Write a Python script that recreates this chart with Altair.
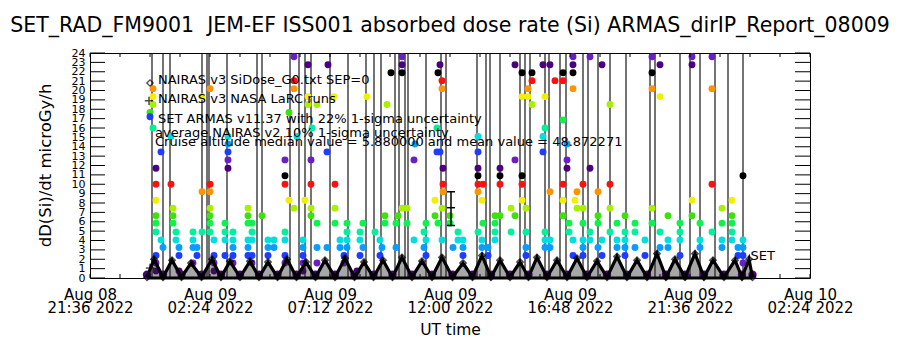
import altair as alt
import pandas as pd

# ---------------- data ----------------
# dose-rate levels (microGy/h) that the ARMAS points sit on, and their colours
level_values = [0.75, 1.6, 2.4, 3.25, 4.05, 4.9, 5.85, 6.65, 7.45, 8.3, 9.2, 10.0,
                10.9, 11.7, 12.6, 13.45, 14.3, 15.1, 16.0, 16.85, 17.65, 18.5,
                19.35, 20.2, 21.05, 21.9, 22.75, 23.6]
palette = ["#4c0080", "#6a1fc0", "#1f3cff", "#0a9cff", "#00dede", "#00f09c",
           "#10f050", "#40e010", "#a8f000", "#f0f000", "#ff9400", "#ff1010", "#000000"]

# hours after Aug 08 21:36 UT of each column of ARMAS points, and the levels present
col_hours = [2.40, 2.52, 2.64, 2.84, 2.92, 3.24, 3.32, 3.44, 3.56, 4.12, 4.28, 4.48,
             4.80, 4.96, 5.40, 5.52, 5.72, 6.32, 6.48, 6.88, 7.12, 7.36, 7.80, 7.96,
             8.16, 8.28, 8.52, 8.60, 8.72, 8.84, 8.88, 9.08, 9.48, 9.52, 9.76, 9.80,
             10.00, 10.16, 10.28, 10.68, 10.80, 10.92, 11.08, 11.40, 11.60, 11.68,
             11.80, 11.88, 12.04, 12.24, 12.32, 12.48, 12.68, 12.96, 13.00, 13.36,
             13.44, 13.80, 13.88, 13.92, 14.00, 14.08, 14.12, 14.40, 14.52, 14.72,
             14.92, 15.52, 15.68, 15.72, 15.92, 16.20, 16.40, 16.84, 17.00, 17.28,
             17.44, 17.52, 17.68, 18.12, 18.20, 18.40, 18.60, 18.92, 19.08, 19.16,
             19.32, 19.40, 19.48, 19.72, 20.00, 20.32, 20.48, 20.80, 21.08, 21.40,
             21.80, 22.20, 22.48, 22.80, 23.12, 23.60, 24.08, 24.40, 24.88, 25.28,
             25.68, 25.92, 26.12]
col_levels = [[20], [18, 21, 22, 23], [0, 1, 2, 5, 6, 7, 9, 11, 13], [4, 15], [3],
              [11, 17], [8, 7, 6], [5, 4], [3, 2, 0], [5, 4, 3, 1], [3, 2], [10, 5, 22],
              [11, 10, 8, 7, 6, 5, 23], [4, 2, 1, 0], [6, 5, 4, 2], [13, 14, 15, 16, 17],
              [5, 4, 3, 2, 1], [8, 7, 6, 4, 3, 2], [6, 5, 4, 2, 1], [7], [4, 3, 2], [4, 3],
              [1, 2, 5, 4, 11, 12, 14], [9, 20], [8, 27, 24, 23], [17], [0, 1, 2, 3, 4],
              [9], [26, 22, 21], [7, 8, 11, 14], [18], [1, 3, 6, 21], [3, 15], [26], [22],
              [11, 8, 6], [4, 3], [2, 1], [5, 6, 4, 3], [0], [2, 4, 5], [6, 3], [22], [5],
              [4, 2], [3], [7, 6], [21], [25], [6, 3], [7], [27, 26, 25, 8], [8, 6],
              [14, 4], [16], [3, 5], [6, 4, 2], [9, 7], [18, 15], [25, 6], [26, 15],
              [24, 23, 8, 4], [13, 11, 10], [7, 6], [3], [4, 5], [3, 2, 4],
              [17, 15, 13, 12, 11, 10, 5], [9, 4, 3], [6, 11], [3, 2], [7, 6, 5, 4],
              [13, 12, 11, 7], [8, 5], [26, 14, 7], [25, 22, 12, 11, 9], [8, 3, 2, 5],
              [22, 23], [24, 25, 21], [15, 17, 26], [22, 18, 5, 4, 3], [26, 10, 4, 3],
              [24], [25, 24, 19, 11, 9, 7], [16, 14, 13], [6, 5], [27, 26, 25, 23, 4, 2],
              [9], [10, 8], [11, 8, 6, 4, 3, 2], [27, 13, 5, 4], [10, 7, 6, 3], [26, 4, 2],
              [21, 11, 8, 5], [6, 4, 3], [7, 5, 4, 3, 2], [6, 5, 3], [4, 2],
              [27, 25, 23, 8, 6], [26, 22, 5, 3], [7, 4, 3], [6, 5, 4, 2], [27, 26, 9, 7],
              [6, 4, 3], [27, 23, 11, 5], [8, 6, 4, 3], [9, 7, 6, 5, 4], [3, 2],
              [12, 4, 3, 2, 1]]

# ARMAS excursions that leave the top of the plot
spike_hours = [2.48, 2.92, 3.20, 4.48, 4.68, 4.76, 5.48, 6.68, 6.88, 8.00, 8.36, 8.60,
               8.84, 9.60, 10.32, 11.04, 11.36, 11.64, 12.20, 12.36, 12.60, 12.72, 13.44,
               14.04, 14.24, 15.48, 15.84, 16.00, 16.40, 17.20, 17.40, 17.60, 18.20,
               18.36, 18.80, 19.04, 19.72, 19.92, 20.32, 20.80, 21.44, 22.40, 22.60,
               23.60, 24.00, 24.40, 25.00, 25.52, 26.12]

# NAIRAS v3 SiDose curve: crest and trough points
nairas_peak_hours = [2.56, 3.28, 4.04, 4.88, 5.60, 6.40, 7.12, 7.88, 8.64, 9.40, 10.20,
                     10.96, 11.72, 12.48, 13.28, 14.08, 14.92, 15.68, 16.40, 17.20, 17.88,
                     18.68, 19.48, 20.28, 21.08, 21.88, 22.68, 23.40, 24.20, 24.92, 25.80,
                     26.36]
nairas_peak_vals = [2.0, 1.9, 1.6, 2.0, 1.8, 1.8, 1.7, 2.0, 1.7, 1.9, 2.1, 1.7, 1.9, 2.2,
                    1.8, 2.2, 1.6, 2.4, 1.9, 1.7, 2.2, 1.9, 2.1, 1.8, 2.3, 1.9, 2.6, 2.0,
                    2.6, 1.9, 1.9, 2.0]
nairas_trough_hours = [2.28, 2.92, 3.66, 4.46, 5.24, 6.00, 6.76, 7.50, 8.26, 9.02, 9.80,
                       10.58, 11.34, 12.10, 12.88, 13.68, 14.50, 15.30, 16.04, 16.80,
                       17.54, 18.28, 19.08, 19.88, 20.68, 21.48, 22.28, 23.04, 23.80,
                       24.56, 25.36, 26.08, 26.50]
nairas_trough_val = 0.08
armas_floor_val = 0.35

# NAIRAS NASA LaRC run with error bar, and single LaRC point
larc_hours = [14.44]
larc_low = [5.6]
larc_mid = [7.5]
larc_high = [9.2]
larc_point_hours = [2.40]
larc_point_vals = [1.07]

# axes
x_label_values = [0, 4.8, 9.6, 14.4, 19.2, 24.0, 28.8]
x_label_dates = ["Aug 08", "Aug 09", "Aug 09", "Aug 09", "Aug 09", "Aug 09", "Aug 10"]
x_label_times = ["21:36 2022", "02:24 2022", "07:12 2022", "12:00 2022",
                 "16:48 2022", "21:36 2022", "02:24 2022"]
x_minor_ticks = [0, 1.2, 2.4, 3.6, 4.8, 6.0, 7.2, 8.4, 9.6, 10.8, 12.0, 13.2, 14.4,
                 15.6, 16.8, 18.0, 19.2, 20.4, 21.6, 22.8, 24.0, 25.2, 26.4, 27.6, 28.8]
y_ticks = list(range(0, 25))

legend_lines = ["NAIRAS v3 SiDose_G0.txt SEP=0",
                "NAIRAS v3 NASA LaRC runs",
                "SET ARMAS v11.37 with 22% 1-sigma uncertainty",
                "average NAIRAS v2 10% 1-sigma uncertainty",
                "Cruise altitude median value = 5.880000 and mean value = 48.872271"]
legend_hours = [2.72, 2.72, 2.72, 2.60, 2.60]
legend_vals = [21.1, 19.1, 17.0, 15.45, 14.5]

TITLE = "SET_RAD_FM9001\u00a0\u00a0JEM-EF ISS001 absorbed dose rate (Si) ARMAS_dirIP_Report_08009"
FONT = "DejaVu Sans"

# ---------------- tables ----------------
pts = pd.DataFrame([
    {"h": h, "v": level_values[l], "c": palette[l % 13]}
    for h, lv in zip(col_hours, col_levels) for l in lv
])
spikes = pd.DataFrame({"h": spike_hours, "y0": 0.0, "y1": 24.0})
nairas = pd.DataFrame(
    [{"h": h, "v": v} for h, v in zip(nairas_peak_hours, nairas_peak_vals)] +
    [{"h": h, "v": nairas_trough_val} for h in nairas_trough_hours]
).sort_values("h")
floor_pts = pd.DataFrame({"h": nairas_trough_hours, "v": armas_floor_val})
baseline = pd.DataFrame({"h": [nairas_trough_hours[0]], "h2": [nairas_trough_hours[-1]], "v": [0.0]})
larc = pd.DataFrame({"h": larc_hours, "lo": larc_low, "mid": larc_mid, "hi": larc_high})
caps = pd.DataFrame(
    [{"a": h - 0.16, "b": h + 0.16, "v": v} for h, lo, mi, hi in
     zip(larc_hours, larc_low, larc_mid, larc_high) for v in (lo, mi, hi)])
larc_pt = pd.DataFrame({"h": larc_point_hours, "v": larc_point_vals})
ytick_df = pd.DataFrame({"v": y_ticks})
xtick_df = pd.DataFrame({"h": x_minor_ticks})
legend_df = pd.DataFrame({"h": legend_hours, "v": legend_vals, "t": legend_lines})
legend_sym = pd.DataFrame({"h": [2.40, 2.36, 2.40], "v": [20.8, 18.9, 17.2],
                           "k": ["diamond", "plus", "dot"]})
set_lbl = pd.DataFrame({"h": [26.42], "v": [2.3], "t": ["SET"]})

# ---------------- scales / axes ----------------
xs = alt.Scale(domain=[0, 28.8], nice=False, zero=False)
ys = alt.Scale(domain=[0, 24], nice=False, zero=False)

lab_expr = "[" + ",".join(f"['{d}','{t}']" for d, t in zip(x_label_dates, x_label_times)) \
           + "][round(datum.value/4.8)]"
xaxis = alt.Axis(values=x_label_values, labelExpr=lab_expr, title="UT time",
                 ticks=False, domain=False, grid=False, labelFont=FONT, labelFontSize=15,
                 labelLineHeight=13, labelPadding=9, labelColor="black", labelFlush=False,
                 labelOverlap=False, titleFont=FONT, titleFontSize=15.5,
                 titleFontWeight="normal", titleColor="black", titleY=44)
yaxis = alt.Axis(values=y_ticks, title="dD(Si)/dt microGy/h", ticks=False, domain=False,
                 grid=False, labelFont=FONT, labelFontSize=11, labelPadding=5,
                 labelColor="black", labelOverlap=False, labelFlush=False,
                 titleFont=FONT, titleFontSize=16.5, titleFontWeight="normal",
                 titleColor="black", titleX=-45, titleY=112, titleAlign="center",
                 titleBaseline="middle")


def X(f):
    return alt.X(f"{f}:Q", scale=xs, axis=xaxis)


def Y(f):
    return alt.Y(f"{f}:Q", scale=ys, axis=yaxis)


spike_layer = alt.Chart(spikes).mark_rule(color="black", strokeWidth=1.1, clip=True).encode(
    x=X("h"), y=Y("y0"), y2="y1")
point_layer = alt.Chart(pts).mark_point(filled=True, shape="circle", size=48, opacity=1,
                                        clip=True).encode(
    x=X("h"), y=Y("v"), color=alt.Color("c:N", scale=None))
nairas_area = alt.Chart(nairas).mark_area(color="#222222", opacity=0.4).encode(
    x=X("h"), y=Y("v"))
floor_layer = alt.Chart(floor_pts).mark_point(filled=True, shape="circle", size=70,
                                              opacity=1, color="#4c0080").encode(
    x=X("h"), y=Y("v"))
nairas_line = alt.Chart(nairas).mark_line(color="black", strokeWidth=3.2).encode(
    x=X("h"), y=Y("v"), order="h:Q")
nairas_pts = alt.Chart(nairas).mark_point(shape="diamond", filled=False, color="black",
                                          size=40, strokeWidth=1.5).encode(
    x=X("h"), y=Y("v"))
base_layer = alt.Chart(baseline).mark_rule(color="black", strokeWidth=3).encode(
    x=X("h"), x2="h2", y=Y("v"))
larc_bar = alt.Chart(larc).mark_rule(color="black", strokeWidth=1.5).encode(
    x=X("h"), y=Y("lo"), y2="hi")
larc_caps = alt.Chart(caps).mark_rule(color="black", strokeWidth=1.5).encode(
    x=X("a"), x2="b", y=Y("v"))
plus_shape = "M -1 0 L 1 0 M 0 -1 L 0 1"
larc_pt_layer = alt.Chart(larc_pt).mark_point(shape=plus_shape, filled=False, color="black",
                                              size=70, strokeWidth=1.5).encode(
    x=X("h"), y=Y("v"))

ytick_l = alt.Chart(ytick_df).mark_rule(color="black", strokeWidth=1).encode(
    y=Y("v"), x=alt.value(0), x2=alt.value(15))
ytick_r = alt.Chart(ytick_df).mark_rule(color="black", strokeWidth=1).encode(
    y=Y("v"), x=alt.value(705), x2=alt.value(720))
xtick_b = alt.Chart(xtick_df).mark_rule(color="black", strokeWidth=1).encode(
    x=X("h"), y=alt.value(221), y2=alt.value(225))
xtick_t = alt.Chart(xtick_df).mark_rule(color="black", strokeWidth=1).encode(
    x=X("h"), y=alt.value(0), y2=alt.value(4))

legend_text = alt.Chart(legend_df).mark_text(align="left", baseline="middle", font=FONT,
                                             fontSize=13, color="black").encode(
    x=X("h"), y=Y("v"), text="t:N")
sym_diamond = alt.Chart(legend_sym[legend_sym.k == "diamond"]).mark_point(
    shape="diamond", filled=False, color="black", size=40, strokeWidth=1.3).encode(
    x=X("h"), y=Y("v"))
sym_plus = alt.Chart(legend_sym[legend_sym.k == "plus"]).mark_point(
    shape=plus_shape, filled=False, color="black", size=70, strokeWidth=1.5).encode(
    x=X("h"), y=Y("v"))
sym_dot = alt.Chart(legend_sym[legend_sym.k == "dot"]).mark_point(
    shape="circle", filled=True, color="#1f3cff", size=48, opacity=1).encode(
    x=X("h"), y=Y("v"))
set_text = alt.Chart(set_lbl).mark_text(align="left", baseline="middle", font=FONT,
                                        fontSize=13, color="black").encode(
    x=X("h"), y=Y("v"), text="t:N")

chart = alt.layer(
    spike_layer, point_layer, nairas_area, floor_layer, nairas_line, nairas_pts,
    base_layer, larc_bar, larc_caps, larc_pt_layer,
    ytick_l, ytick_r, xtick_b, xtick_t,
    legend_text, sym_diamond, sym_plus, sym_dot, set_text
).properties(
    width=720, height=225,
    autosize="none",
    padding={"left": 90, "top": 53, "right": 90, "bottom": 72},
    title=alt.TitleParams(
        TITLE, font=FONT, fontSize=20.5, fontWeight="normal", color="black",
        anchor="middle", offset=11),
    background="white",
).configure_view(stroke="black", strokeWidth=1)

chart.save("out.html", embed_options={"renderer": "svg", "actions": False})
